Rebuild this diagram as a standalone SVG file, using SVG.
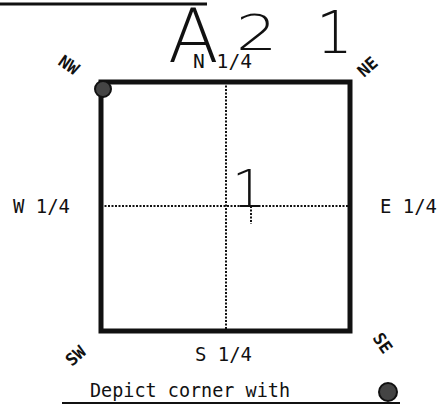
<svg xmlns="http://www.w3.org/2000/svg" width="442" height="405" viewBox="0 0 442 405">
<style>
.lbl{font-family:"DejaVu Sans Mono","Liberation Mono",monospace;font-size:19px;fill:#111}
.cor{font-family:"DejaVu Sans Mono","Liberation Mono",monospace;font-size:17px;font-weight:bold;fill:#111}
.hand{font-family:"DejaVu Sans","Liberation Sans",sans-serif;font-weight:200;fill:#111}
.dot{stroke:#111;stroke-width:2;stroke-dasharray:2 1.5;fill:none}
.mark{fill:#444;stroke:#111;stroke-width:2}
</style>
<rect width="442" height="405" fill="#fff"/>
<line x1="0" y1="4" x2="207" y2="4" stroke="#111" stroke-width="3"/>
<g id="title">
<text class="hand" x="168" y="62" font-size="74">A</text>
<text class="hand" x="236" y="50" font-size="50" transform="translate(236 0) scale(1.3 1) translate(-236 0)">2</text>
<text class="hand" x="316" y="53" font-size="58">1</text>
</g>
<g id="grid">
<line class="dot" x1="226" y1="82" x2="226" y2="330"/>
<line class="dot" x1="101" y1="206" x2="350" y2="206"/>
<line class="dot" x1="251" y1="206" x2="251" y2="224"/>
</g>
<g id="section">
<rect x="101" y="82" width="249" height="249" fill="none" stroke="#111" stroke-width="5"/>
<text class="hand" x="232" y="207" font-size="52">1</text>
</g>
<circle class="mark" cx="103" cy="89" r="8"/>
<g id="labels">
<text class="lbl" x="193" y="68" textLength="59" lengthAdjust="spacingAndGlyphs">N 1/4</text>
<text class="lbl" x="195" y="361" textLength="57" lengthAdjust="spacingAndGlyphs">S 1/4</text>
<text class="lbl" x="13" y="213" textLength="57" lengthAdjust="spacingAndGlyphs">W 1/4</text>
<text class="lbl" x="380" y="213" textLength="57" lengthAdjust="spacingAndGlyphs">E 1/4</text>
<text class="cor" transform="translate(57 64) rotate(35)">NW</text>
<text class="cor" transform="translate(364 78) rotate(-42)">NE</text>
<text class="cor" transform="translate(72 367) rotate(-42)">SW</text>
<text class="cor" transform="translate(372 338) rotate(55)">SE</text>
</g>
<g id="legend">
<text class="lbl" x="90" y="397" textLength="200" lengthAdjust="spacingAndGlyphs">Depict corner with</text>
<line x1="62" y1="403" x2="400" y2="403" stroke="#111" stroke-width="2"/>
<circle class="mark" cx="388" cy="392" r="9"/>
</g>
</svg>
